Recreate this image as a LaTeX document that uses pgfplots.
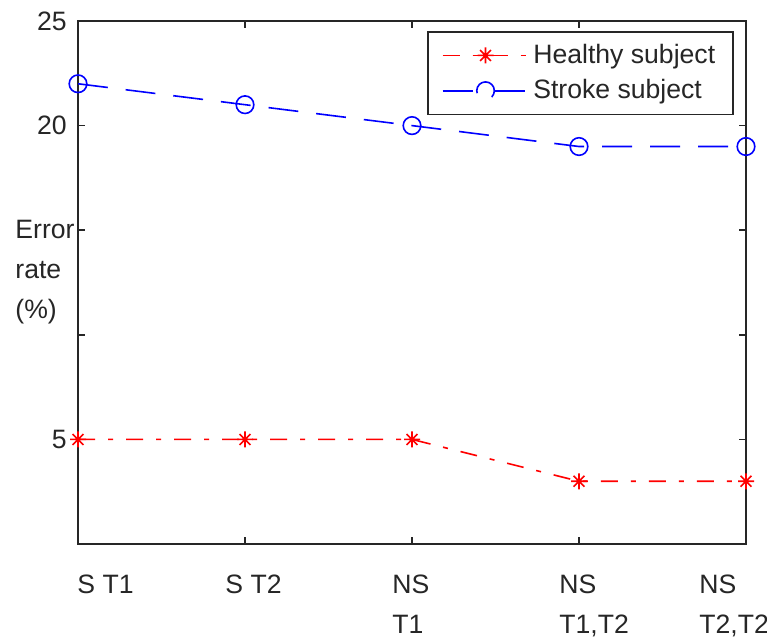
\documentclass[border=0pt]{standalone}
\usepackage{fontspec}
\setmainfont{Liberation Sans}
\usepackage{pgfplots}
\pgfplotsset{compat=1.18}
\usetikzlibrary{calc}
\definecolor{mred}{RGB}{255,0,0}
\definecolor{mblue}{RGB}{0,0,255}
% MATLAB-style asterisk: plus and cross with a dot in the middle
\pgfdeclareplotmark{mstar}{%
  \pgfpathmoveto{\pgfqpoint{-\pgfplotmarksize}{0pt}}%
  \pgfpathlineto{\pgfqpoint{\pgfplotmarksize}{0pt}}%
  \pgfpathmoveto{\pgfqpoint{0pt}{-\pgfplotmarksize}}%
  \pgfpathlineto{\pgfqpoint{0pt}{\pgfplotmarksize}}%
  \pgfpathmoveto{\pgfqpoint{-0.68\pgfplotmarksize}{-0.68\pgfplotmarksize}}%
  \pgfpathlineto{\pgfqpoint{0.68\pgfplotmarksize}{0.68\pgfplotmarksize}}%
  \pgfpathmoveto{\pgfqpoint{-0.68\pgfplotmarksize}{0.68\pgfplotmarksize}}%
  \pgfpathlineto{\pgfqpoint{0.68\pgfplotmarksize}{-0.68\pgfplotmarksize}}%
  \pgfusepathqstroke
  \pgfpathcircle{\pgfpointorigin}{0.3\pgfplotmarksize}%
  \pgfusepathqfill
}
\begin{document}
\fontsize{13.3}{16}\selectfont
\begin{tikzpicture}
\begin{axis}[
    name=ax,
    scale only axis, width=334pt, height=261.5pt,
    xmin=0, xmax=4, ymin=0, ymax=25,
    axis line style={line width=0.9pt, black!85},
    tick style={line width=0.8pt, black!85},
    tick align=inside, major tick length=3.5pt,
    xtick={0,1,2,3,4},
    xticklabels={{\hspace*{9.5pt}S T1},{S T2},{NS\\T1},{NS\\T1,T2},{\hspace*{-13.5pt}NS\\\hspace*{-13.5pt}T2,T2}},
    xticklabel style={align=left, anchor=north west, inner sep=0pt,
        xshift=-10pt, yshift=-15.5pt, font=\fontsize{13.3}{20}\selectfont, text=black!85},
    ytick={5,10,15,20,25},
    yticklabels={5,,,20,25},
    yticklabel style={text=black!85, xshift=-1pt},
    /pgf/number format/assume math mode=true,
    ylabel={Error\\rate\\(\%)},
    every axis y label/.style={at={(axis description cs:0,0.62)}, anchor=north west,
        xshift=-31.5pt, inner sep=0pt, align=left, text=black!85,
        font=\fontsize{13.3}{20}\selectfont},
    legend style={at={(1,1)}, anchor=north east, xshift=-6pt, yshift=-5pt,
        draw=black!85, line width=0.8pt, inner xsep=7pt, inner ysep=4pt,
        row sep=2pt, text=black!85, nodes={inner sep=2pt}},
    legend cell align=left,
]
\addplot[color=mred, line width=0.8pt, dash pattern=on 8.5pt off 6.5pt on 2.5pt off 6.5pt,
    mark=mstar, mark size=4pt, mark options={solid, draw=mred, fill=mred, line width=0.8pt},
    legend image code/.code={
        \draw[mred, line width=0.8pt, dash pattern=on 8.5pt off 6.5pt on 2.5pt off 6.5pt]
            (0pt,0pt) -- (43pt,0pt);
        \draw[mred, line width=0.8pt] (15pt,0pt) -- (28pt,0pt);
        \path[mark=mstar, mark size=4pt, mark options={solid, draw=mred, fill=mred, line width=0.8pt}]
            plot coordinates {(21.5pt,0pt)};
    }]
  coordinates {(0,5) (1,5) (2,5) (3,3) (4,3)};
\addlegendentry{Healthy subject}
\addplot[color=mblue, line width=0.8pt, dash pattern=on 15pt off 9pt,
    mark=o, mark size=4.4pt, mark options={solid, draw=mblue, line width=0.8pt},
    legend image code/.code={
        \draw[mblue, line width=0.8pt] (0pt,0pt) -- (17pt,0pt);
        \draw[mblue, line width=0.8pt] (26pt,0pt) -- (43pt,0pt);
        \draw[mblue, line width=0.8pt, fill=white] (21.5pt,0pt) circle[radius=4.4pt];
    }]
  coordinates {(0,22) (1,21) (2,20) (3,19) (4,19)};
\addlegendentry{Stroke subject}
\end{axis}
\pgfresetboundingbox
\path ($(ax.south west)+(-39pt,-49.5pt)$) rectangle ($(ax.north east)+(10.5pt,10.5pt)$);
\end{tikzpicture}
\end{document}
